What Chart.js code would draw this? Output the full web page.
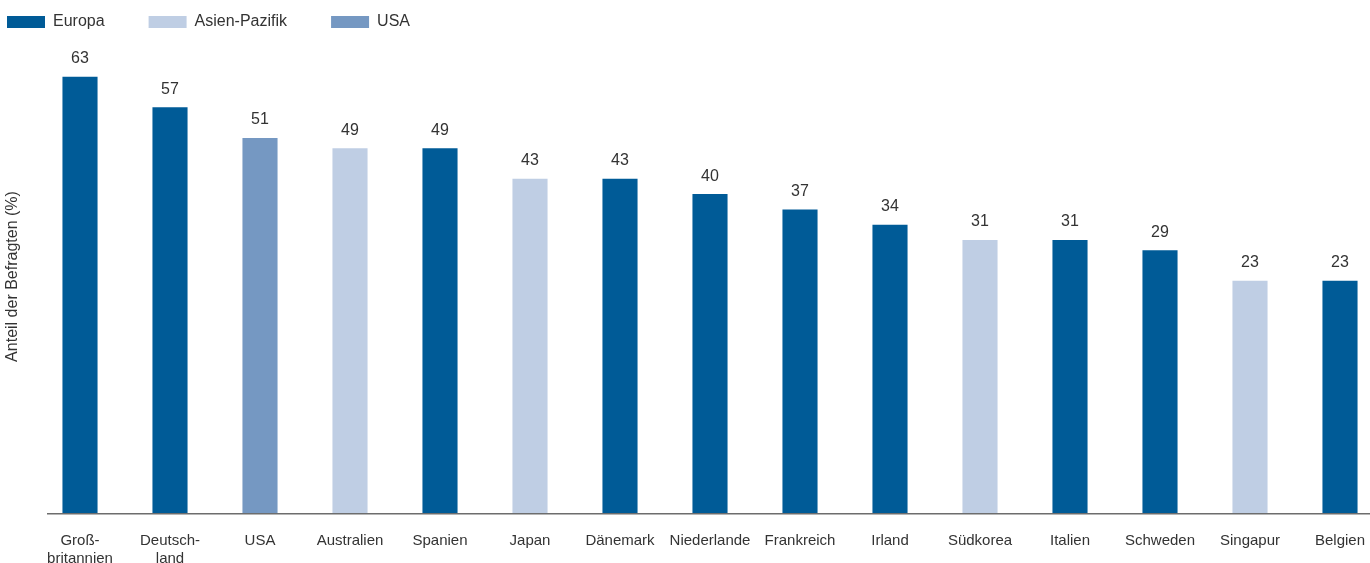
<!DOCTYPE html>
<html lang="de">
<head>
<meta charset="utf-8">
<title>Anteil der Befragten</title>
<script src="https://cdn.jsdelivr.net/npm/chart.js@4.4.1/dist/chart.umd.min.js"></script>
<style>
  html, body { margin: 0; padding: 0; background: #fff; overflow: hidden; }
  body { width: 1370px; height: 563px; position: relative; }
  #chart { position: absolute; left: -37px; top: -30px; }
</style>
</head>
<body>
<canvas id="chart" width="1422" height="593"></canvas>
<script>
// Daten
const countries = [['Groß-', 'britannien'], ['Deutsch-', 'land'], 'USA', 'Australien', 'Spanien', 'Japan', 'Dänemark', 'Niederlande', 'Frankreich', 'Irland', 'Südkorea', 'Italien', 'Schweden', 'Singapur', 'Belgien'];
const values = [63, 57, 51, 49, 49, 43, 43, 40, 37, 34, 31, 31, 29, 23, 23];
const regions = ['Europa', 'Europa', 'USA', 'Asien-Pazifik', 'Europa', 'Asien-Pazifik', 'Europa', 'Europa', 'Europa', 'Europa', 'Asien-Pazifik', 'Europa', 'Europa', 'Asien-Pazifik', 'Europa'];
const regionNames = ['Europa', 'Asien-Pazifik', 'USA'];

// Farben je Region
const regionColors = {
    'Europa': '#005b97',
    'Asien-Pazifik': '#bfcee4',
    'USA': '#7598c2',
};

// y-Achse
const yMin = -22.5;
const yMax = 70.2;

Chart.defaults.font.family = "'Liberation Sans', Arial, sans-serif";
Chart.defaults.color = '#333333';

// eine Datenreihe pro Region, sonst null
const datasets = regionNames.map(function(name){
    return {
        label: name,
        data: values.map((v, i) => regions[i] === name ? v : null),
        backgroundColor: regionColors[name],
        base: yMin,
        grouped: false,
        barPercentage: 0.39,
        categoryPercentage: 1,
    };
});

// Werte über den Balken
const valueLabels = {
    id: 'valueLabels',
    afterDatasetsDraw(chart) {
        const ctx = chart.ctx;
        ctx.save();
        ctx.font = "16px 'Liberation Sans', Arial, sans-serif";
        ctx.fillStyle = '#333333';
        ctx.textAlign = 'center';
        ctx.textBaseline = 'middle';
        chart.data.datasets.forEach(function(ds, d){
            const meta = chart.getDatasetMeta(d);
            meta.data.forEach(function(bar, i){
                if (ds.data[i] === null) return;
                ctx.fillText(String(ds.data[i]), bar.x, bar.y - 18);
            });
        });
        ctx.restore();
    }
};

// Grundlinie
const baseLine = {
    id: 'baseLine',
    afterDatasetsDraw(chart) {
        const ctx = chart.ctx;
        const y = chart.chartArea.bottom + 0.75;
        ctx.save();
        ctx.strokeStyle = '#6d6d6d';
        ctx.lineWidth = 1.5;
        ctx.beginPath();
        ctx.moveTo(84, y);
        ctx.lineTo(chart.width, y);
        ctx.stroke();
        ctx.restore();
    }
};

const ctx = document.getElementById('chart');

const barChart = new Chart(ctx, {
    type: 'bar',
    data: {
        labels: countries,
        datasets: datasets,
    },
    options: {
        responsive: false,
        animation: false,
        layout: { padding: 0 },
        plugins: {
            legend: {
                position: 'top',
                align: 'start',
                labels: {
                    boxWidth: 38,
                    boxHeight: 12,
                    padding: 44,
                    color: '#333333',
                    font: { size: 16 },
                }
            },
            tooltip: { enabled: false },
        },
        scales: {
            x: {
                grid: { display: false, drawTicks: false },
                border: { display: false },
                ticks: {
                    padding: 19,
                    maxRotation: 0,
                    autoSkip: false,
                    color: '#333333',
                    font: { size: 15 },
                },
                afterFit(scale) { scale.height = 50; }
            },
            y: {
                min: yMin,
                max: yMax,
                grid: { display: false, drawTicks: false },
                border: { display: false },
                ticks: { display: false },
                title: {
                    display: true,
                    text: 'Anteil der Befragten (%)',
                    color: '#333333',
                    font: { size: 16 },
                    padding: { top: 40, bottom: 0 },
                },
                afterFit(scale) { scale.width = 72; }
            }
        }
    },
    plugins: [valueLabels, baseLine]
});
</script>
</body>
</html>
